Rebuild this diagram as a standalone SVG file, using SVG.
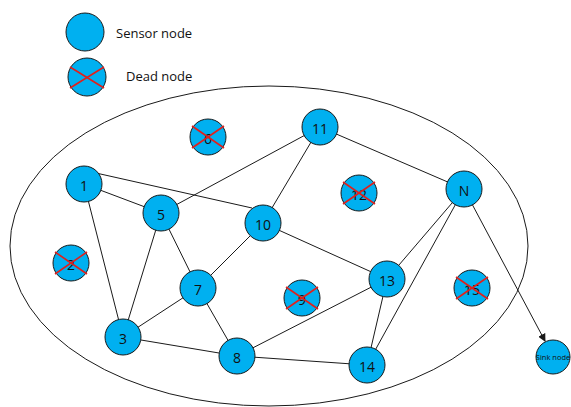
<svg xmlns="http://www.w3.org/2000/svg" width="571" height="407" viewBox="0 0 571 407">
<style>
.n{fill:#00B0F0;stroke:#1a1a1a;stroke-width:1}
.t{font-family:"Open Sans","Liberation Sans",sans-serif;font-size:14px;fill:#111;text-anchor:middle;dominant-baseline:central}
.x{stroke:#E0201C;stroke-width:1.6}
.e{stroke:#1a1a1a;stroke-width:1;fill:none}
.lg{font-family:"Open Sans","Liberation Sans",sans-serif;font-size:13px;fill:#111;dominant-baseline:central}
</style>
<defs>
<marker id="ar" markerWidth="8" markerHeight="8" refX="7" refY="4" orient="auto" markerUnits="userSpaceOnUse">
<path d="M0,0 L8,4 L0,8 z" fill="#1a1a1a"/>
</marker>
</defs>
<rect width="571" height="407" fill="#fff"/>
<ellipse cx="269" cy="246" rx="259" ry="160" class="e"/>
<g id="legend">
<circle cx="85" cy="32" r="19" class="n"/>
<text x="116" y="33" class="lg">Sensor node</text>
<circle cx="87" cy="77" r="19" class="n"/>
<line x1="70" y1="67" x2="104" y2="88" class="x"/>
<line x1="70" y1="88" x2="104" y2="67" class="x"/>
<text x="126" y="76" class="lg">Dead node</text>
</g>
<g id="connectors">
<line x1="84" y1="184" x2="161" y2="213" class="e"/>
<line x1="96" y1="173" x2="252" y2="208" class="e"/>
<line x1="84" y1="184" x2="123" y2="337" class="e"/>
<line x1="161" y1="213" x2="320" y2="127" class="e"/>
<line x1="161" y1="213" x2="198" y2="288" class="e"/>
<line x1="161" y1="213" x2="123" y2="337" class="e"/>
<line x1="320" y1="127" x2="263" y2="223" class="e"/>
<line x1="320" y1="127" x2="464" y2="189" class="e"/>
<line x1="263" y1="223" x2="198" y2="288" class="e"/>
<line x1="263" y1="223" x2="387" y2="279" class="e"/>
<line x1="198" y1="288" x2="123" y2="337" class="e"/>
<line x1="198" y1="288" x2="237" y2="356" class="e"/>
<line x1="123" y1="337" x2="237" y2="356" class="e"/>
<line x1="237" y1="356" x2="387" y2="279" class="e"/>
<line x1="237" y1="356" x2="367" y2="365" class="e"/>
<line x1="387" y1="279" x2="367" y2="365" class="e"/>
<line x1="387" y1="279" x2="464" y2="189" class="e"/>
<line x1="464" y1="189" x2="367" y2="365" class="e"/>
<line x1="464" y1="189" x2="545" y2="341" class="e" marker-end="url(#ar)"/>
</g>
<g id="n6"><circle cx="208" cy="137" r="18" class="n"/><text x="208" y="138" class="t">6</text><line x1="192" y1="126" x2="224" y2="148" class="x"/><line x1="192" y1="148" x2="224" y2="126" class="x"/></g>
<g id="n12"><circle cx="359" cy="193" r="18" class="n"/><text x="359" y="194" class="t">12</text><line x1="343" y1="182" x2="375" y2="204" class="x"/><line x1="343" y1="204" x2="375" y2="182" class="x"/></g>
<g id="n2"><circle cx="71" cy="263" r="18" class="n"/><text x="71" y="264" class="t">2</text><line x1="55" y1="252" x2="87" y2="274" class="x"/><line x1="55" y1="274" x2="87" y2="252" class="x"/></g>
<g id="n9"><circle cx="302" cy="298" r="18" class="n"/><text x="302" y="299" class="t">9</text><line x1="286" y1="287" x2="318" y2="309" class="x"/><line x1="286" y1="309" x2="318" y2="287" class="x"/></g>
<g id="n15"><circle cx="472" cy="288" r="18" class="n"/><text x="472" y="289" class="t">15</text><line x1="456" y1="277" x2="488" y2="299" class="x"/><line x1="456" y1="299" x2="488" y2="277" class="x"/></g>
<g id="n11"><circle cx="320" cy="127" r="18" class="n"/><text x="320" y="128" class="t">11</text></g>
<g id="n1"><circle cx="84" cy="184" r="18" class="n"/><text x="84" y="185" class="t">1</text></g>
<g id="n5"><circle cx="161" cy="213" r="18" class="n"/><text x="161" y="214" class="t">5</text></g>
<g id="n10"><circle cx="263" cy="223" r="18" class="n"/><text x="263" y="224" class="t">10</text></g>
<g id="nN"><circle cx="464" cy="189" r="18" class="n"/><text x="464" y="190" class="t">N</text></g>
<g id="n7"><circle cx="198" cy="288" r="18" class="n"/><text x="198" y="289" class="t">7</text></g>
<g id="n13"><circle cx="387" cy="279" r="18" class="n"/><text x="387" y="280" class="t">13</text></g>
<g id="n3"><circle cx="123" cy="337" r="18" class="n"/><text x="123" y="338" class="t">3</text></g>
<g id="n8"><circle cx="237" cy="356" r="18" class="n"/><text x="237" y="357" class="t">8</text></g>
<g id="n14"><circle cx="367" cy="365" r="18" class="n"/><text x="367" y="366" class="t">14</text></g>
<g id="sink"><circle cx="553" cy="357" r="17" class="n"/><text x="553" y="357" class="t" style="font-size:7.5px">Sink node</text></g>
</svg>
